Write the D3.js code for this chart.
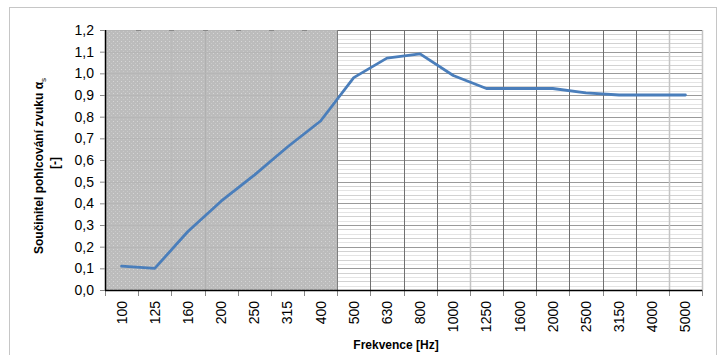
<!DOCTYPE html>
<html>
<head>
<meta charset="utf-8">
<script src="https://cdn.jsdelivr.net/npm/d3@7"></script>
<style>
  html, body { margin: 0; padding: 0; background: #fff; }
  svg { display: block; font-family: "Liberation Sans", Arial, sans-serif; }
</style>
</head>
<body>
<svg id="chart" width="724" height="355"></svg>
<script>
// Frequency bands (Hz) and measured sound absorption coefficient
const bands = ["100","125","160","200","250","315","400","500","630","800","1000","1250","1600","2000","2500","3150","4000","5000"];
const alpha = [0.11, 0.10, 0.27, 0.41, 0.53, 0.66, 0.78, 0.98, 1.07, 1.09, 0.99, 0.93, 0.93, 0.93, 0.91, 0.90, 0.90, 0.90];
const yTicks = [0, 0.1, 0.2, 0.3, 0.4, 0.5, 0.6, 0.7, 0.8, 0.9, 1.0, 1.1, 1.2];
const shadedBands = ["100","125","160","200","250","315","400"];

const svg = d3.select("#chart");
const pLeft = 105, pRight = 702, pTop = 30, pBottom = 290;

const x = d3.scaleBand().domain(bands).range([pLeft, pRight]).paddingInner(0).paddingOuter(0);
const y = d3.scaleLinear().domain([0, 1.2]).range([pBottom, pTop]);

// outer chart frame
svg.append("rect")
  .attr("x", 9.5).attr("y", 7.5).attr("width", 707).attr("height", 360)
  .attr("fill", "#fff").attr("stroke", "#c6c6c6").attr("stroke-width", 1);

// pattern for the shaded low-frequency region
const defs = svg.append("defs");
const pat = defs.append("pattern").attr("id", "dots")
  .attr("patternUnits", "userSpaceOnUse").attr("width", 4).attr("height", 4);
pat.append("rect").attr("width", 4).attr("height", 4).attr("fill", "#bcbcbc");
pat.append("rect").attr("x", 1).attr("y", 1).attr("width", 1).attr("height", 1).attr("fill", "#d6d6d6");
pat.append("rect").attr("x", 3).attr("y", 3).attr("width", 1).attr("height", 1).attr("fill", "#cacaca");

const grid = svg.append("g");

// minor horizontal gridlines
const minor = d3.range(0, 121, 2).map(d => d / 100).filter(v => Math.round(v * 100) % 10 !== 0);
grid.selectAll("line.minor").data(minor).join("line")
  .attr("x1", pLeft).attr("x2", pRight)
  .attr("y1", d => Math.round(y(d)) + 0.5).attr("y2", d => Math.round(y(d)) + 0.5)
  .attr("stroke", (d, i) => i % 2 ? "#d2d2d2" : "#e4e4e4").attr("stroke-width", 1);

// major horizontal gridlines
grid.selectAll("line.major").data(yTicks.slice(1)).join("line")
  .attr("x1", pLeft).attr("x2", pRight)
  .attr("y1", d => Math.round(y(d)) + 0.5).attr("y2", d => Math.round(y(d)) + 0.5)
  .attr("stroke", "#9a9a9a").attr("stroke-width", 1);

// vertical gridlines at band boundaries
const bounds = bands.map(b => x(b)).concat([pRight]);
grid.selectAll("line.v").data(bounds.slice(1)).join("line")
  .attr("x1", d => Math.round(d) + 0.5).attr("x2", d => Math.round(d) + 0.5)
  .attr("y1", pTop).attr("y2", pBottom)
  .attr("stroke", (d, i) => (i === 10 || i >= 16) ? "#c4c4c4" : "#707070")
  .attr("stroke-width", (d, i) => (i === 10 || i >= 16) ? 1.5 : 1);

// top border of plot area
svg.append("line").attr("x1", pLeft).attr("x2", pRight)
  .attr("y1", pTop + 0.5).attr("y2", pTop + 0.5).attr("stroke", "#707070");

// shaded region over the low bands
const sx0 = x(shadedBands[0]);
const sx1 = x(shadedBands[shadedBands.length - 1]) + x.bandwidth();
svg.append("rect").attr("x", sx0).attr("y", pTop).attr("width", sx1 - sx0).attr("height", pBottom - pTop)
  .attr("fill", "url(#dots)");

// faint gridlines visible through the shaded region
svg.selectAll("line.sv").data(bounds.slice(1, shadedBands.length)).join("line")
  .attr("x1", d => Math.round(d) + 0.5).attr("x2", d => Math.round(d) + 0.5)
  .attr("y1", pTop).attr("y2", pBottom)
  .attr("stroke", (d, i) => i === 2 ? "#b0b0b0" : "#bababa").attr("stroke-width", 1);
svg.selectAll("line.sh").data(yTicks.slice(1)).join("line")
  .attr("x1", sx0).attr("x2", sx1)
  .attr("y1", d => Math.round(y(d)) + 0.5).attr("y2", d => Math.round(y(d)) + 0.5)
  .attr("stroke", "#b6b6b6").attr("stroke-width", 1);
svg.selectAll("line.st").data(bounds.slice(1, shadedBands.length)).join("line")
  .attr("x1", d => Math.round(d) - 2).attr("x2", d => Math.round(d) + 3)
  .attr("y1", pTop + 0.5).attr("y2", pTop + 0.5)
  .attr("stroke", "#8a8a8a").attr("stroke-width", 1);

// y axis
const yAxis = d3.axisLeft(y).tickValues(yTicks).tickSize(5).tickPadding(6)
  .tickFormat(d => d3.format(".1f")(d).replace(".", ","));
const gy = svg.append("g").attr("transform", `translate(${pLeft},0)`).call(yAxis);
gy.select(".domain").attr("stroke", "#000").attr("stroke-width", 1.5).attr("d", `M0.5,${pTop}V${pBottom}`);
gy.selectAll(".tick line").attr("stroke", "#888");
gy.selectAll(".tick text").attr("font-size", 14).attr("fill", "#000")
  .attr("font-family", "Liberation Sans, Arial, sans-serif");

// x axis: ticks at band boundaries, labels rotated
const gx = svg.append("g").attr("transform", `translate(0,${pBottom})`);
gx.selectAll("line.tick").data(bounds).join("line")
  .attr("x1", d => Math.round(d) + 0.5).attr("x2", d => Math.round(d) + 0.5)
  .attr("y1", 0).attr("y2", 6).attr("stroke", "#888");
gx.append("line").attr("x1", pLeft).attr("x2", pRight).attr("y1", 0.5).attr("y2", 0.5)
  .attr("stroke", "#000").attr("stroke-width", 1.5);
gx.selectAll("text").data(bands).join("text")
  .attr("transform", d => `translate(${x(d) + x.bandwidth() / 2 + 5},11) rotate(-90)`)
  .attr("text-anchor", "end")
  .attr("font-size", 14).attr("fill", "#000")
  .text(d => d);

// line series
const line = d3.line()
  .x((d, i) => x(bands[i]) + x.bandwidth() / 2)
  .y(d => y(d));
svg.append("path").datum(alpha)
  .attr("d", line)
  .attr("fill", "none").attr("stroke", "#4a7ebb").attr("stroke-width", 2.8)
  .attr("stroke-linejoin", "round").attr("stroke-linecap", "round");

// axis titles
const yt = svg.append("text")
  .attr("transform", "translate(43,166) rotate(-90)")
  .attr("text-anchor", "middle").attr("font-size", 12).attr("font-weight", "bold").attr("fill", "#000");
yt.append("tspan").text("Součinitel pohlcování zvuku α");
yt.append("tspan").attr("font-size", 8).attr("font-weight", "normal").attr("dy", 3).text("s");
svg.append("text")
  .attr("transform", "translate(59,163) rotate(-90)")
  .attr("text-anchor", "middle").attr("font-size", 12).attr("font-weight", "bold").attr("fill", "#000")
  .text("[-]");

svg.append("text").attr("x", 396).attr("y", 349)
  .attr("text-anchor", "middle").attr("font-size", 12).attr("font-weight", "bold").attr("fill", "#000")
  .text("Frekvence [Hz]");
</script>
</body>
</html>
